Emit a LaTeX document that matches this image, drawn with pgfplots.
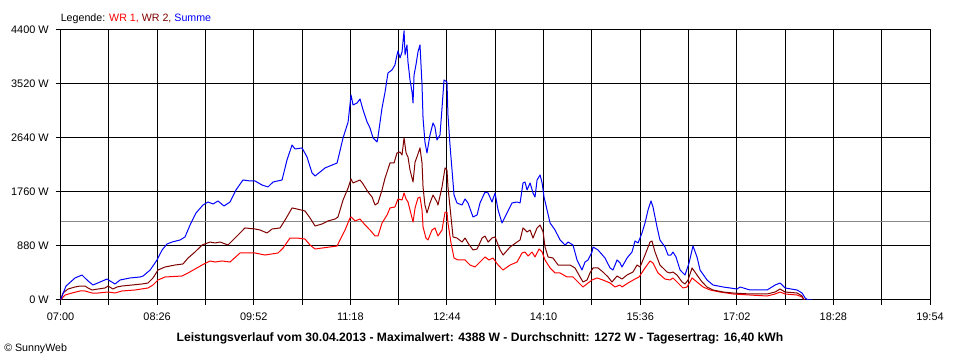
\documentclass[border=0pt]{standalone}
\usepackage{pgfplots}
\pgfplotsset{compat=1.18}
\usepackage{fontspec}
\setmainfont{Liberation Sans}
\definecolor{wrone}{RGB}{255,0,0}
\definecolor{wrtwo}{RGB}{128,0,0}
\definecolor{summe}{RGB}{0,0,255}
\definecolor{avg}{RGB}{136,136,136}
\begin{document}
\begin{tikzpicture}
\useasboundingbox (0,0) rectangle (720pt,270pt);
\begin{axis}[
  at={(45.4pt,45pt)}, anchor=south west,
  scale only axis, width=652.1pt, height=202.5pt,
  xmin=0, xmax=774, ymin=0, ymax=4400,
  xtick={0,43,86,129,172,215,258,301,344,387,430,473,516,559,602,645,688,731,774},
  xticklabels={07:00,,08:26,,09:52,,11:18,,12:44,,14:10,,15:36,,17:02,,18:28,,19:54},
  ytick={0,880,1760,2640,3520,4400},
  yticklabels={0 W,880 W,1760 W,2640 W,3520 W,4400 W},
  grid=major, major grid style={black, line width=0.75pt},
  axis line style={line width=0.75pt},
  tick align=outside, tick pos=left,
  major tick length=3.75pt, tick style={black, line width=0.75pt},
  tick label style={font=\fontsize{8.2}{9.8}\selectfont},
  xticklabel style={yshift=-2.5pt},
  yticklabel style={xshift=-1.5pt},
  every axis plot/.append style={line width=0.75pt, line join=round},
]
\addplot[avg] coordinates {(0,1272) (774,1272)};
% WR 1
\addplot[wrone] coordinates {
(0,0) (4.0,81) (10.2,114) (17.4,147) (21.8,147) (28.0,114) (33.4,114) (42.3,130) (48.5,114) (54.7,147)
(66.3,163) (77.9,196) (82.3,244) (86.8,326) (93.0,375) (108.2,391) (113.5,440) (119.7,505) (126.0,570)
(133.1,636) (137.5,619) (143.8,636) (150.9,619) (159.8,766) (173.1,766) (182.0,733) (193.6,766) (198.1,847)
(204.3,1010) (210.5,1010) (217.6,994) (222.1,896) (226.6,831) (232.8,847) (246.2,880) (248.8,978)
(253.3,1141) (257.7,1337) (258.6,1353) (262.2,1288) (266.6,1320) (271.1,1222) (275.5,1141) (280.0,1043)
(282.6,1043) (286.2,1255) (290.7,1386) (293.3,1500) (297.7,1516) (300.4,1646) (304.0,1630) (305.8,1744)
(307.6,1646) (309.3,1597) (311.1,1467) (313.8,1271) (315.6,1500) (318.2,1663) (320.0,1679) (321.8,1467)
(322.7,1190) (325.3,1010) (327.1,978) (330.7,1141) (333.3,1174) (336.0,1043) (339.6,1141) (342.3,1434)
(344.0,1434) (344.9,1255) (347.6,929) (350.3,684) (353.8,652) (360.1,652) (364.5,570) (369.0,538)
(373.4,619) (377.9,701) (381.4,652) (385.0,684) (389.5,570) (393.9,489) (400.2,570) (406.4,619)
(410.8,766) (413.5,782) (416.2,717) (419.7,782) (422.4,701) (426.0,831) (428.7,782) (431.3,652)
(435.8,522) (440.2,440) (444.7,440) (450.9,375) (456.2,375) (460.7,293) (465.1,212) (469.6,277)
(473.1,326) (477.6,359) (482.9,326) (489.2,277) (493.6,212) (498.1,244) (499.8,212) (505.2,277)
(511.4,342) (515.0,375) (520.3,522) (524.8,636) (527.4,603) (531.9,440) (538.1,342) (542.6,326)
(545.2,359) (549.7,277) (554.1,196) (557.7,212) (562.2,359) (566.6,293) (572.0,212) (578.2,163)
(587.1,130) (598.7,98) (613.8,81) (629.0,65) (636.1,98) (640.5,130) (645.0,98) (655.7,81) (660.1,49) (661.9,0)
};
% WR 2
\addplot[wrtwo] coordinates {
(0,0) (2.2,114) (6.7,179) (12.9,212) (17.4,228) (21.8,228) (24.5,196) (28.0,163) (33.4,179) (39.6,196)
(42.3,228) (46.7,179) (50.3,212) (54.7,228) (63.6,244) (72.5,261) (77.9,277) (82.3,359) (86.8,489)
(93.0,538) (101.9,570) (109.0,587) (113.5,684) (119.7,782) (126.0,896) (133.1,945) (137.5,929) (142.0,945)
(149.1,896) (155.3,1010) (164.2,1174) (173.1,1157) (177.6,1141) (183.8,1092) (188.3,1157) (195.4,1174)
(199.9,1304) (206.1,1500) (210.5,1483) (217.6,1451) (222.1,1337) (226.6,1206) (232.8,1239) (238.1,1288)
(244.4,1320) (247.0,1353) (251.5,1630) (256.0,1826) (258.6,1972) (260.4,1907) (266.6,1956) (269.3,1891)
(273.7,1760) (277.3,1679) (280.0,1548) (282.6,1581) (286.2,1793) (288.9,1988) (293.3,2233) (296.9,2233)
(299.5,2396) (302.2,2412) (304.0,2363) (305.8,2641) (307.6,2396) (309.3,2331) (311.1,2119) (313.8,1923)
(315.6,2249) (317.3,2331) (320.0,2478) (321.8,2233) (322.7,1842) (324.4,1548) (326.2,1418) (328.9,1581)
(331.6,1711) (335.1,1597) (336.0,1548) (339.6,1842) (342.3,2152) (344.0,2119) (344.9,1842) (347.6,1353)
(349.4,1027) (352.9,1010) (357.4,945) (360.1,1010) (362.7,929) (367.2,815) (370.8,831) (375.3,1010)
(377.9,1043) (380.6,945) (384.1,1010) (386.8,1027) (391.3,815) (394.0,733) (400.2,864) (406.4,945)
(409.1,978) (411.7,1174) (415.3,1108) (418.0,1141) (420.6,1010) (424.2,1174) (426.9,1222) (429.6,1108)
(431.3,864) (434.0,701) (438.4,684) (442.9,570) (453.6,570) (458.0,522) (462.5,375) (465.1,293)
(468.7,326) (471.3,440) (474.0,522) (478.5,522) (482.9,456) (487.4,375) (490.9,293) (495.4,391)
(499.8,342) (504.3,407) (509.6,456) (513.2,570) (515.9,538) (520.3,733) (524.8,945) (526.5,962)
(529.2,782) (533.6,570) (539.9,456) (542.6,440) (545.2,456) (548.8,407) (553.3,293) (555.9,261)
(558.6,326) (562.2,522) (566.6,407) (571.1,293) (575.5,212) (580.9,163) (589.8,130) (598.7,114)
(613.8,98) (629.0,98) (636.1,130) (640.5,179) (645.0,130) (655.7,114) (660.1,65) (661.9,0)
};
% Summe
\addplot[summe] coordinates {
(0,0) (4.9,228) (12.9,359) (19.1,407) (24.5,310) (28.9,244) (35.2,293) (41.4,342) (44.1,310) (48.5,261)
(53.0,326) (61.9,359) (70.8,375) (73.5,391) (79.8,489) (85.9,652) (90.4,815) (94.8,913) (99.3,945)
(106.4,978) (110.8,1027) (115.3,1222) (120.6,1418) (126.8,1548) (131.3,1597) (135.8,1565) (140.2,1614)
(145.5,1532) (150.9,1597) (156.2,1793) (162.4,1956) (168.7,1940) (173.1,1940) (179.4,1874) (184.7,1842)
(189.2,1923) (197.2,1956) (201.6,2282) (206.1,2526) (208.7,2461) (215.0,2478) (219.4,2331) (223.9,2070)
(226.6,2021) (235.5,2152) (246.2,2233) (251.5,2641) (256.0,2901) (258.6,3341) (260.4,3178) (264.0,3211)
(266.6,3276) (269.3,3097) (272.9,2901) (275.5,2804) (278.2,2641) (281.8,2575) (282.6,2657) (286.2,3130)
(288.9,3390) (291.5,3700) (295.1,3749) (297.7,3831) (299.5,3994) (300.4,4059) (302.2,3945) (304.0,4042)
(305.8,4388) (306.7,3994) (308.4,4157) (309.3,3880) (311.1,3586) (312.9,3390) (313.8,3211) (314.7,3667)
(316.4,3831) (318.2,4042) (320.0,4157) (321.8,3505) (322.7,2966) (324.4,2575) (326.2,2396) (328.9,2690)
(331.6,2885) (333.3,2820) (335.1,2608) (337.8,2690) (339.6,3130) (341.4,3586) (344.0,3553) (344.9,3016)
(346.7,2526) (348.5,2119) (350.3,1711) (352.9,1581) (357.4,1548) (360.1,1646) (362.7,1581) (367.2,1353)
(370.8,1385) (373.4,1581) (377.9,1760) (380.6,1744) (384.1,1597) (386.8,1744) (389.5,1467) (393.0,1255)
(397.5,1418) (401.9,1581) (406.4,1597) (409.1,1581) (411.7,1907) (413.5,1923) (415.3,1793) (418.0,1907)
(420.6,1744) (422.4,1679) (424.2,1956) (426.9,2038) (428.7,1907) (430.4,1679) (433.1,1467) (435.8,1255)
(440.2,1141) (444.7,978) (449.1,896) (451.8,945) (456.2,896) (459.8,652) (464.2,489) (466.9,619)
(469.6,652) (473.1,782) (474.0,864) (478.5,815) (484.7,684) (489.2,522) (491.8,489) (495.4,652)
(498.1,603) (499.8,538) (504.3,684) (508.7,782) (511.4,962) (514.1,929) (517.6,1092) (520.3,1255)
(523.0,1467) (525.6,1614) (527.4,1516) (531.0,1190) (533.6,978) (538.1,864) (540.8,733) (543.4,733)
(545.2,782) (547.9,701) (551.5,489) (555.9,407) (559.5,603) (563.0,880) (566.6,701) (569.3,489)
(575.5,326) (580.9,244) (589.8,212) (596.0,196) (602.3,179) (604.9,212) (613.8,163) (629.0,163)
(636.1,244) (640.5,277) (645.0,196) (655.7,163) (660.1,114) (662.8,33) (665.5,0) (669.0,0)
};
\end{axis}
\node[anchor=base west, inner sep=0pt, font=\fontsize{8}{9.6}\selectfont] at (45.4pt,253.5pt)
  {Legende: \textcolor{wrone}{WR 1,} \textcolor{wrtwo}{WR 2,} \textcolor{summe}{Summe}};
\node[anchor=center, inner sep=0pt, font=\fontsize{9.1}{11}\selectfont\bfseries] at (360pt,16pt)
  {Leistungsverlauf vom 30.04.2013 - Maximalwert: 4388 W - Durchschnitt: 1272 W - Tagesertrag: 16,40 kWh};
\node[anchor=west, inner sep=0pt, font=\fontsize{8}{9.6}\selectfont] at (3pt,8.5pt) {© SunnyWeb};
\end{tikzpicture}
\end{document}
